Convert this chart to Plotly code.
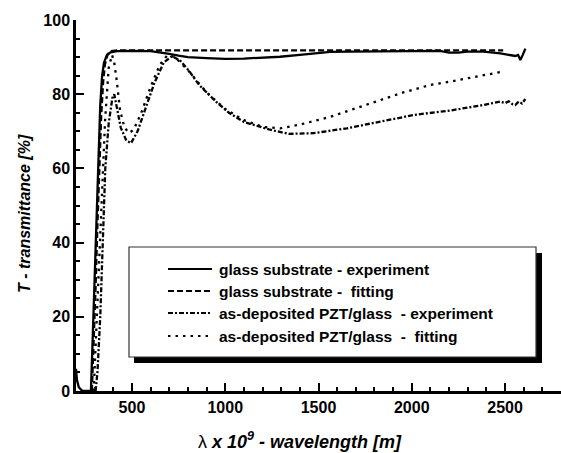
import plotly.graph_objects as go

# ---- data ----
glass_exp_x = [200, 205, 215, 230, 240, 280, 290, 300, 310, 320, 330, 340, 350, 365, 385, 420, 500, 600,
               650, 700, 750, 800, 900, 1000, 1100, 1200, 1294, 1400, 1500, 1563, 1670, 1831, 2000, 2150,
               2200, 2250, 2296, 2385, 2475, 2511, 2555, 2570, 2582, 2595, 2609]
glass_exp_y = [6, 3, 1, 0.2, 0, 0, 15, 30, 47, 63, 77, 85, 88.5, 90.5, 91.3, 91.6, 91.7, 91.6,
               91.3, 90.9, 90.4, 90.0, 89.7, 89.5, 89.6, 89.8, 90.1, 90.6, 91.1, 91.4, 91.5, 91.6, 91.7, 91.7,
               91.2, 91.2, 91.5, 91.5, 91.0, 90.7, 90.3, 90.6, 89.2, 90.6, 92.3]

glass_fit_x = [285, 295, 305, 315, 325, 335, 345, 355, 370, 390, 420, 600, 1000, 1500, 2000, 2490]
glass_fit_y = [0, 12, 28, 45, 61, 74, 83, 88, 90.8, 91.6, 91.8, 91.8, 91.8, 91.8, 91.8, 91.8]

pzt_exp_x = [305, 315, 330, 345, 357, 375, 395, 405, 420, 440, 470, 495, 530, 570, 620, 670, 715,
             760, 810, 860, 950, 1020, 1100, 1235, 1340, 1473, 1652, 1831, 2010, 2189, 2206, 2385, 2475,
             2500, 2520, 2540, 2555, 2573, 2591, 2609]
pzt_exp_y = [0, 5, 20, 40, 60, 72, 79, 80, 76, 71, 67.5, 66.8, 70, 76, 83, 88.5, 90.3,
             89, 86, 82.5, 78, 75, 72.5, 70.5, 69.3, 69.5, 70.8, 72.6, 74.4, 75.5, 75.6, 77.1, 78.0,
             77.6, 78.1, 77.3, 77.1, 78.0, 77.5, 78.7]

pzt_fit_x = [295, 310, 320, 340, 356, 375, 393, 405, 418, 436, 460, 485, 510, 550, 600, 650, 690,
             730, 800, 900, 1000, 1100, 1200, 1294, 1400, 1563, 1700, 1831, 1950, 2099, 2206, 2367, 2489]
pzt_fit_y = [0, 18, 30, 55, 73, 87, 90.6, 88.5, 83.8, 75.7, 71, 69.5, 70.5, 75, 82, 88, 90.5,
             90, 86.5, 80.5, 76, 73, 71.2, 70.8, 71.8, 73.9, 76.1, 78.4, 80.4, 82.5, 83.4, 84.9, 86.1]

legend_labels = ["glass substrate - experiment",
                 "glass substrate -  fitting",
                 "as-deposited PZT/glass  - experiment",
                 "as-deposited PZT/glass  -  fitting"]
dashes = ["solid", "6px,3px", "5px,2px,2px,2px", "2.5px,5px"]

x_ticks = [500, 1000, 1500, 2000, 2500]
y_ticks = [0, 20, 40, 60, 80, 100]

FONT = "Arial, Liberation Sans, sans-serif"

fig = go.Figure()
series = [(glass_exp_x, glass_exp_y), (glass_fit_x, glass_fit_y),
          (pzt_exp_x, pzt_exp_y), (pzt_fit_x, pzt_fit_y)]
for (xs, ys), name, d in zip(series, legend_labels, dashes):
    fig.add_trace(go.Scatter(x=xs, y=ys, mode="lines", name=name, showlegend=False,
                             line=dict(color="black", width=2.3, dash=d)))

# plot-area geometry in pixels
L, R, T, B = 76, 561, 20, 391
W, H = 561, 453

def px(xp):
    return (xp - L) / (R - L)

def py(yp):
    return (B - yp) / (B - T)

shapes = []
# legend shadow and box
shapes.append(dict(type="rect", xref="paper", yref="paper", x0=px(134), x1=px(542), y0=py(363), y1=py(253),
                   fillcolor="black", line=dict(width=0), layer="above"))
shapes.append(dict(type="rect", xref="paper", yref="paper", x0=px(129), x1=px(536), y0=py(357), y1=py(247),
                   fillcolor="white", line=dict(color="#333333", width=1.2), layer="above"))
rows = [269, 291, 313, 336]
annotations = []
for r, lab, d in zip(rows, legend_labels, dashes):
    shapes.append(dict(type="line", xref="paper", yref="paper", x0=px(168), x1=px(212), y0=py(r), y1=py(r),
                       line=dict(color="black", width=2, dash=d), layer="above"))
    annotations.append(dict(xref="paper", yref="paper", x=px(217), y=py(r), text=lab,
                            showarrow=False, xanchor="left", yanchor="middle",
                            font=dict(family=FONT, size=15.5, color="black", weight="bold")))

annotations.append(dict(xref="paper", yref="paper", x=px(24), y=py(214), textangle=-90,
                        text="<i>T - transmittance [%]</i>", showarrow=False,
                        xanchor="center", yanchor="middle",
                        font=dict(family=FONT, size=16, color="black", weight="bold")))
annotations.append(dict(xref="paper", yref="paper", x=px(300), y=py(440),
                        text="<span style='font-weight:normal'>λ</span><i> x 10<sup>9</sup> - wavelength [m]</i>",
                        showarrow=False, xanchor="center", yanchor="middle",
                        font=dict(family=FONT, size=18, color="black", weight="bold")))

tickfont = dict(family=FONT, size=16, color="black", weight="bold")
fig.update_layout(
    width=W, height=H, margin=dict(l=L, r=W - R, t=T, b=H - B),
    paper_bgcolor="white", plot_bgcolor="white",
    shapes=shapes, annotations=annotations,
    font=dict(family=FONT, color="black"),
    xaxis=dict(range=[200, 2800], showgrid=False, zeroline=False, showline=True, linecolor="black",
               linewidth=2.5, ticks="inside", ticklen=8, tickwidth=2, tickcolor="black",
               tickvals=x_ticks, tickfont=tickfont,
               minor=dict(dtick=100, tick0=200, ticks="inside", ticklen=4, tickwidth=1.5, tickcolor="black")),
    yaxis=dict(range=[0, 100], showgrid=False, zeroline=False, showline=True, linecolor="black",
               linewidth=2.5, ticks="inside", ticklen=8, tickwidth=2, tickcolor="black",
               tickvals=y_ticks, tickfont=tickfont,
               minor=dict(dtick=5, tick0=0, ticks="inside", ticklen=4, tickwidth=1.5, tickcolor="black")),
)

fig.write_html("out.html")
